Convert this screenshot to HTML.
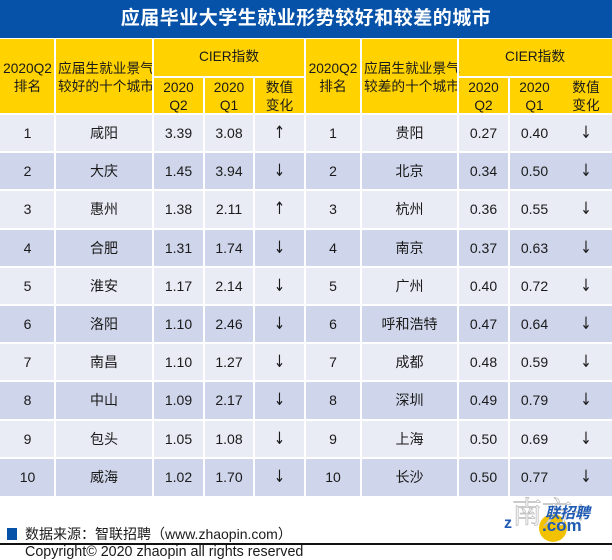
<!DOCTYPE html>
<html><head><meta charset="utf-8">
<style>
*{margin:0;padding:0;box-sizing:border-box}
body{width:612px;height:559px;background:#fff;position:relative;overflow:hidden;font-family:"Liberation Sans","Noto Sans CJK SC",sans-serif;color:#1a1a1a}
.abs{position:absolute}
.title{left:0;top:0;width:612px;height:38px;background:#0652A8;color:#fff;font-weight:bold;font-size:19px;text-align:center;line-height:38px;letter-spacing:0.5px}
.hdr{left:0;top:39px;width:612px;height:75px;background:#FFD200}
.vl{position:absolute;width:2px;background:#fff}
.hl{position:absolute;height:2px;background:#fff}
.ht{position:absolute;font-size:13.7px;line-height:18px;text-align:center}
.row{position:absolute;left:0;width:612px;height:38.2px}
.row span{position:absolute;top:0;height:38px;line-height:38px;text-align:center;font-size:14px}
.row span.ar{font-family:"DejaVu Sans",sans-serif;font-size:17px;transform:scaleX(0.8)}
.c1{left:0;width:55px}.c2{left:55px;width:98px}.c3{left:153px;width:51px}.c4{left:204px;width:50px}.c5{left:254px;width:51px}
.c6{left:305px;width:56px}.c7{left:361px;width:97px}.c8{left:458px;width:51px}.c9{left:509px;width:51px}.c10{left:560px;width:52px}
.L{background:#E9EBF5}.D{background:#CFD5EA}
</style></head><body>
<div class="abs title">应届毕业大学生就业形势较好和较差的城市</div>
<div class="abs hdr"></div>
<!-- header text -->
<div class="ht" style="left:0;top:60px;width:55px">2020Q2<br>排名</div>
<div class="ht" style="left:58px;top:60px;width:100px;text-align:left">应届生就业景气<br>较好的十个城市</div>
<div class="ht" style="left:153px;top:48px;width:152px">CIER指数</div>
<div class="ht" style="left:153px;top:79px;width:51px">2020<br>Q2</div>
<div class="ht" style="left:204px;top:79px;width:50px">2020<br>Q1</div>
<div class="ht" style="left:254px;top:79px;width:51px">数值<br>变化</div>
<div class="ht" style="left:305px;top:60px;width:56px">2020Q2<br>排名</div>
<div class="ht" style="left:364px;top:60px;width:100px;text-align:left">应届生就业景气<br>较差的十个城市</div>
<div class="ht" style="left:458px;top:48px;width:154px">CIER指数</div>
<div class="ht" style="left:458px;top:79px;width:51px">2020<br>Q2</div>
<div class="ht" style="left:509px;top:79px;width:51px">2020<br>Q1</div>
<div class="ht" style="left:560px;top:79px;width:52px">数值<br>变化</div>

<!-- rows -->
<div class="row L" style="top:114px"><span class="c1">1</span><span class="c2">咸阳</span><span class="c3">3.39</span><span class="c4">3.08</span><span class="c5 ar">↑</span><span class="c6">1</span><span class="c7">贵阳</span><span class="c8">0.27</span><span class="c9">0.40</span><span class="c10 ar">↓</span></div>
<div class="row D" style="top:152.2px"><span class="c1">2</span><span class="c2">大庆</span><span class="c3">1.45</span><span class="c4">3.94</span><span class="c5 ar">↓</span><span class="c6">2</span><span class="c7">北京</span><span class="c8">0.34</span><span class="c9">0.50</span><span class="c10 ar">↓</span></div>
<div class="row L" style="top:190.4px"><span class="c1">3</span><span class="c2">惠州</span><span class="c3">1.38</span><span class="c4">2.11</span><span class="c5 ar">↑</span><span class="c6">3</span><span class="c7">杭州</span><span class="c8">0.36</span><span class="c9">0.55</span><span class="c10 ar">↓</span></div>
<div class="row D" style="top:228.6px"><span class="c1">4</span><span class="c2">合肥</span><span class="c3">1.31</span><span class="c4">1.74</span><span class="c5 ar">↓</span><span class="c6">4</span><span class="c7">南京</span><span class="c8">0.37</span><span class="c9">0.63</span><span class="c10 ar">↓</span></div>
<div class="row L" style="top:266.8px"><span class="c1">5</span><span class="c2">淮安</span><span class="c3">1.17</span><span class="c4">2.14</span><span class="c5 ar">↓</span><span class="c6">5</span><span class="c7">广州</span><span class="c8">0.40</span><span class="c9">0.72</span><span class="c10 ar">↓</span></div>
<div class="row D" style="top:305px"><span class="c1">6</span><span class="c2">洛阳</span><span class="c3">1.10</span><span class="c4">2.46</span><span class="c5 ar">↓</span><span class="c6">6</span><span class="c7">呼和浩特</span><span class="c8">0.47</span><span class="c9">0.64</span><span class="c10 ar">↓</span></div>
<div class="row L" style="top:343.2px"><span class="c1">7</span><span class="c2">南昌</span><span class="c3">1.10</span><span class="c4">1.27</span><span class="c5 ar">↓</span><span class="c6">7</span><span class="c7">成都</span><span class="c8">0.48</span><span class="c9">0.59</span><span class="c10 ar">↓</span></div>
<div class="row D" style="top:381.4px"><span class="c1">8</span><span class="c2">中山</span><span class="c3">1.09</span><span class="c4">2.17</span><span class="c5 ar">↓</span><span class="c6">8</span><span class="c7">深圳</span><span class="c8">0.49</span><span class="c9">0.79</span><span class="c10 ar">↓</span></div>
<div class="row L" style="top:419.6px"><span class="c1">9</span><span class="c2">包头</span><span class="c3">1.05</span><span class="c4">1.08</span><span class="c5 ar">↓</span><span class="c6">9</span><span class="c7">上海</span><span class="c8">0.50</span><span class="c9">0.69</span><span class="c10 ar">↓</span></div>
<div class="row D" style="top:457.8px;height:38.2px"><span class="c1">10</span><span class="c2">威海</span><span class="c3">1.02</span><span class="c4">1.70</span><span class="c5 ar">↓</span><span class="c6">10</span><span class="c7">长沙</span><span class="c8">0.50</span><span class="c9">0.77</span><span class="c10 ar">↓</span></div>

<!-- grid lines -->
<div class="hl" style="left:0;top:113px;width:612px"></div>
<div class="hl" style="left:0;top:151.2px;width:612px"></div>
<div class="hl" style="left:0;top:189.4px;width:612px"></div>
<div class="hl" style="left:0;top:227.6px;width:612px"></div>
<div class="hl" style="left:0;top:265.8px;width:612px"></div>
<div class="hl" style="left:0;top:304px;width:612px"></div>
<div class="hl" style="left:0;top:342.2px;width:612px"></div>
<div class="hl" style="left:0;top:380.4px;width:612px"></div>
<div class="hl" style="left:0;top:418.6px;width:612px"></div>
<div class="hl" style="left:0;top:456.8px;width:612px"></div>
<div class="hl" style="left:153px;top:76px;width:152px"></div>
<div class="hl" style="left:458px;top:76px;width:154px"></div>
<div class="vl" style="left:54px;top:39px;height:457px"></div>
<div class="vl" style="left:152px;top:39px;height:457px"></div>
<div class="vl" style="left:203px;top:77px;height:419px"></div>
<div class="vl" style="left:253px;top:77px;height:419px"></div>
<div class="vl" style="left:304px;top:39px;height:457px"></div>
<div class="vl" style="left:360px;top:39px;height:457px"></div>
<div class="vl" style="left:457px;top:39px;height:457px"></div>
<div class="vl" style="left:508px;top:77px;height:419px"></div>

<!-- logo -->
<div class="abs" style="left:539px;top:514px;width:28px;height:28px;border-radius:50%;background:#F2C200"></div>
<div class="abs" style="left:512px;top:494px;font-size:30px;color:rgba(255,255,255,0.9);-webkit-text-stroke:0.8px #bbb;line-height:32px;font-family:'Noto Serif CJK SC',serif">南方+</div>
<div class="abs" style="left:545px;top:506px;font-size:15px;font-weight:bold;font-style:italic;color:#1F5BB5;line-height:16px">联招聘</div>
<div class="abs" style="left:542px;top:517px;font-size:17px;font-weight:bold;color:#1F5BB5;line-height:17px">.com</div>
<div class="abs" style="left:504px;top:516px;font-size:16px;font-weight:bold;color:#1F5BB5;line-height:16px">z</div>

<!-- footer -->
<div class="abs" style="left:7px;top:528px;width:10px;height:12px;background:#0652A8"></div>
<div class="abs" style="left:25px;top:527px;font-size:14px;line-height:14px;white-space:nowrap">数据来源：智联招聘（www.zhaopin.com）</div>
<div class="abs" style="left:0;top:543px;width:612px;height:1.5px;background:#111"></div>
<div class="abs" style="left:25px;top:545px;font-size:14.3px;line-height:15px;white-space:nowrap">Copyright© 2020 zhaopin all rights reserved</div>
</body></html>
